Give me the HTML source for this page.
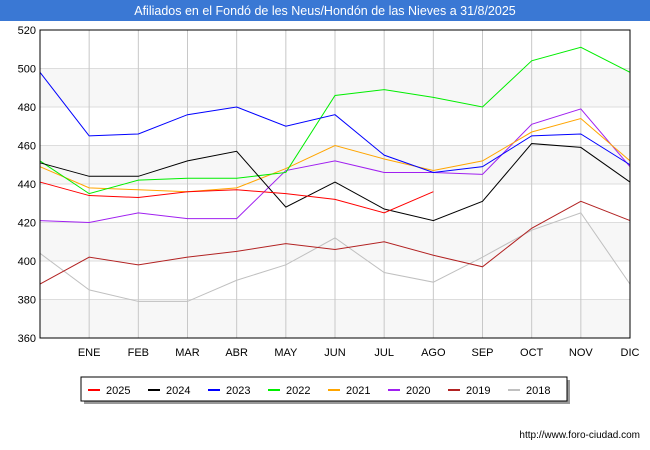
<!DOCTYPE html>
<html><head><meta charset="utf-8"><style>
body{margin:0;background:#fff;font-family:"Liberation Sans",sans-serif;}
svg{display:block}
</style></head><body>
<svg width="650" height="450" xmlns="http://www.w3.org/2000/svg">
<rect x="0" y="0" width="650" height="450" fill="#fff"/>
<rect x="0" y="0" width="650" height="21" fill="#3a78d4"/>
<text x="325" y="15" font-size="12.5" fill="#fff" text-anchor="middle">Afiliados en el Fondó de les Neus/Hondón de las Nieves a 31/8/2025</text>
<g id="grid"></g>
<g id="series"></g>
<rect x="40" y="30" width="590" height="308" fill="none" stroke="#000" stroke-width="1"/>
<g id="legend">
<rect x="84" y="380" width="486" height="24" fill="#999"/>
<rect x="81" y="377" width="486" height="24" fill="#fff" stroke="#000" stroke-width="1"/>
</g>
<text x="640" y="438" font-size="10" fill="#000" text-anchor="end">http://www.foro-ciudad.com</text>
</svg>
<script>
const months=["","ENE","FEB","MAR","ABR","MAY","JUN","JUL","AGO","SEP","OCT","NOV","DIC"];
const yTicks=[360,380,400,420,440,460,480,500,520];
const seriesNames=["2025","2024","2023","2022","2021","2020","2019","2018"];
const seriesColors=["#ff0000","#000000","#0000ff","#00ee00","#ffa500","#a020f0","#b22222","#c0c0c0"];
const s2025=[441,434,433,436,437,435,432,425,436];
const s2024=[451,444,444,452,457,428,441,427,421,431,461,459,441];
const s2023=[498,465,466,476,480,470,476,455,446,449,465,466,450];
const s2022=[452,435,442,443,443,446,486,489,485,480,504,511,498];
const s2021=[449,438,437,436,438,448,460,453,447,452,467,474,452];
const s2020=[421,420,425,422,422,447,452,446,446,445,471,479,449];
const s2019=[388,402,398,402,405,409,406,410,403,397,417,431,421];
const s2018=[404,385,379,379,390,398,412,394,389,402,416,425,388];
const allSeries=[s2025,s2024,s2023,s2022,s2021,s2020,s2019,s2018];
const NS="http://www.w3.org/2000/svg";
const X0=40,X1=630,Y0=338,Y1=30,VMIN=360,VMAX=520;
function xs(i){return X0+i*(X1-X0)/12;}
function ys(v){return Y0-(v-VMIN)*(Y0-Y1)/(VMAX-VMIN);}
const grid=document.getElementById('grid');
for(let k=0;k<yTicks.length-1;k++){
  if(k%2===0){const r=document.createElementNS(NS,'rect');
  r.setAttribute('x',X0);r.setAttribute('y',ys(yTicks[k+1]));r.setAttribute('width',X1-X0);r.setAttribute('height',ys(yTicks[k])-ys(yTicks[k+1]));r.setAttribute('fill','#f7f7f7');
  
  
  grid.appendChild(r);}
}
yTicks.forEach(t=>{
  const l=document.createElementNS(NS,'line');
  l.setAttribute('x1',X0);l.setAttribute('x2',X1);l.setAttribute('y1',ys(t));l.setAttribute('y2',ys(t));l.setAttribute('stroke','#dddddd');
  
  
  grid.appendChild(l);
  const tx=document.createElementNS(NS,'text');
  tx.setAttribute('x',X0-4);tx.setAttribute('y',ys(t)+4);tx.setAttribute('text-anchor','end');tx.setAttribute('font-size','11');
  tx.textContent=t;
  
  
  grid.appendChild(tx);
});
months.forEach((m,i)=>{
  if(i===0)return;
  const l=document.createElementNS(NS,'line');
  l.setAttribute('x1',xs(i));l.setAttribute('x2',xs(i));l.setAttribute('y1',Y1);l.setAttribute('y2',Y0);l.setAttribute('stroke','#c8c8c8');
  
  
  grid.appendChild(l);
  const tx=document.createElementNS(NS,'text');
  tx.setAttribute('x',xs(i));tx.setAttribute('y',356);tx.setAttribute('text-anchor','middle');tx.setAttribute('font-size','11');
  tx.textContent=m;
  
  
  grid.appendChild(tx);
});
const sg=document.getElementById('series');
for(let s=allSeries.length-1;s>=0;s--){
  const p=document.createElementNS(NS,'polyline');
  p.setAttribute('points',allSeries[s].map((v,i)=>xs(i)+','+ys(v)).join(' '));
  p.setAttribute('fill','none');p.setAttribute('stroke',seriesColors[s]);p.setAttribute('stroke-width','1');
  
  
  sg.appendChild(p);
}
const lg=document.getElementById('legend');
seriesNames.forEach((n,i)=>{
  const x=88+i*60;
  const l=document.createElementNS(NS,'line');
  l.setAttribute('x1',x);l.setAttribute('x2',x+12);l.setAttribute('y1',390);l.setAttribute('y2',390);l.setAttribute('stroke',seriesColors[i]);l.setAttribute('stroke-width','2');
  
  
  lg.appendChild(l);
  const t=document.createElementNS(NS,'text');
  t.setAttribute('x',x+18);t.setAttribute('y',394);t.setAttribute('font-size','11');
  t.textContent=n;
  
  
  lg.appendChild(t);
});
</script>
</body></html>
